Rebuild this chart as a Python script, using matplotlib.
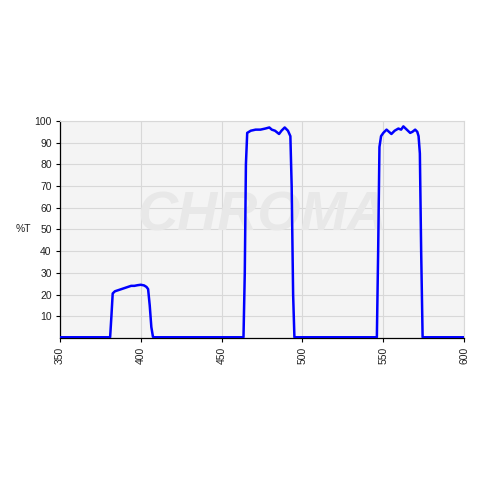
import matplotlib
matplotlib.use("Agg")
import matplotlib.pyplot as plt

plt.rcParams['font.family'] = ['Liberation Sans', 'DejaVu Sans']

# Wavelength (nm) and transmission (%T)
wavelength = [350, 381.0, 381.8, 382.6, 384, 386, 388, 390, 392, 394, 396, 398, 400, 402,
              403.5, 404.5, 405.5, 406.5, 407.5, 408.3,
              463.5, 464.3, 465.0, 465.8, 468, 471, 474, 477, 479.5, 481, 483, 485.5, 487,
              489, 491, 492.5, 493.3, 494.2, 495.0,
              546.0, 546.8, 547.6, 548.6, 550, 552, 553.5, 555, 557, 559.3, 561, 562.4,
              564.5, 566.6, 568, 569.7, 571, 571.8, 572.6, 573.4, 574.3, 600]
transmission = [0.3, 0.3, 10, 20.5, 21.5, 22, 22.5, 23, 23.5, 24, 24, 24.3, 24.5, 24.2,
                23.5, 22.5, 15, 5, 0.5, 0.3,
                0.3, 30, 80, 94.5, 95.5, 96, 96, 96.5, 97, 96, 95.5, 94, 95.5,
                97, 95.5, 93, 70, 20, 0.3,
                0.3, 40, 88, 93, 94.5, 96, 95, 94, 95.5, 96.5, 96, 97.5,
                96, 94.5, 95, 96, 95, 93, 85, 40, 0.3, 0.3]

x_ticks = [350, 400, 450, 500, 550, 600]
y_ticks = [10, 20, 30, 40, 50, 60, 70, 80, 90, 100]

fig = plt.figure(figsize=(4.8, 4.8), dpi=100)
ax = fig.add_axes([0.125, 0.296, 0.842, 0.452])
ax.set_facecolor('#f4f4f4')

ax.plot(wavelength, transmission, color='#0000ff', linewidth=1.8, zorder=3)

ax.set_xlim(350, 600)
ax.set_ylim(0, 100)
ax.set_xticks(x_ticks)
ax.set_yticks(y_ticks)
ax.set_xticklabels([str(v) for v in x_ticks], rotation=90, fontsize=7.5, color='#222222')
ax.set_yticklabels([str(v) for v in y_ticks], fontsize=7.5, color='#222222')
ax.tick_params(axis='both', direction='out', length=3, width=0.8, color='black', pad=3)

ax.grid(True, color='#d8d8d8', linewidth=0.8, zorder=0)
ax.set_axisbelow(True)
for side in ['top', 'right']:
    ax.spines[side].set_color('#d8d8d8')
    ax.spines[side].set_linewidth(0.8)
for side in ['left', 'bottom']:
    ax.spines[side].set_color('black')
    ax.spines[side].set_linewidth(0.9)

ax.set_ylabel('%T', rotation=0, fontsize=7.5, color='#222222', labelpad=8, va='center')

# Watermark
ax.text(0.5, 0.56, 'CHROMA', transform=ax.transAxes, ha='center', va='center',
        fontsize=40, fontweight='bold', fontstyle='italic', color='#e8e8e8', zorder=1)

fig.savefig('out.png', dpi=100)
